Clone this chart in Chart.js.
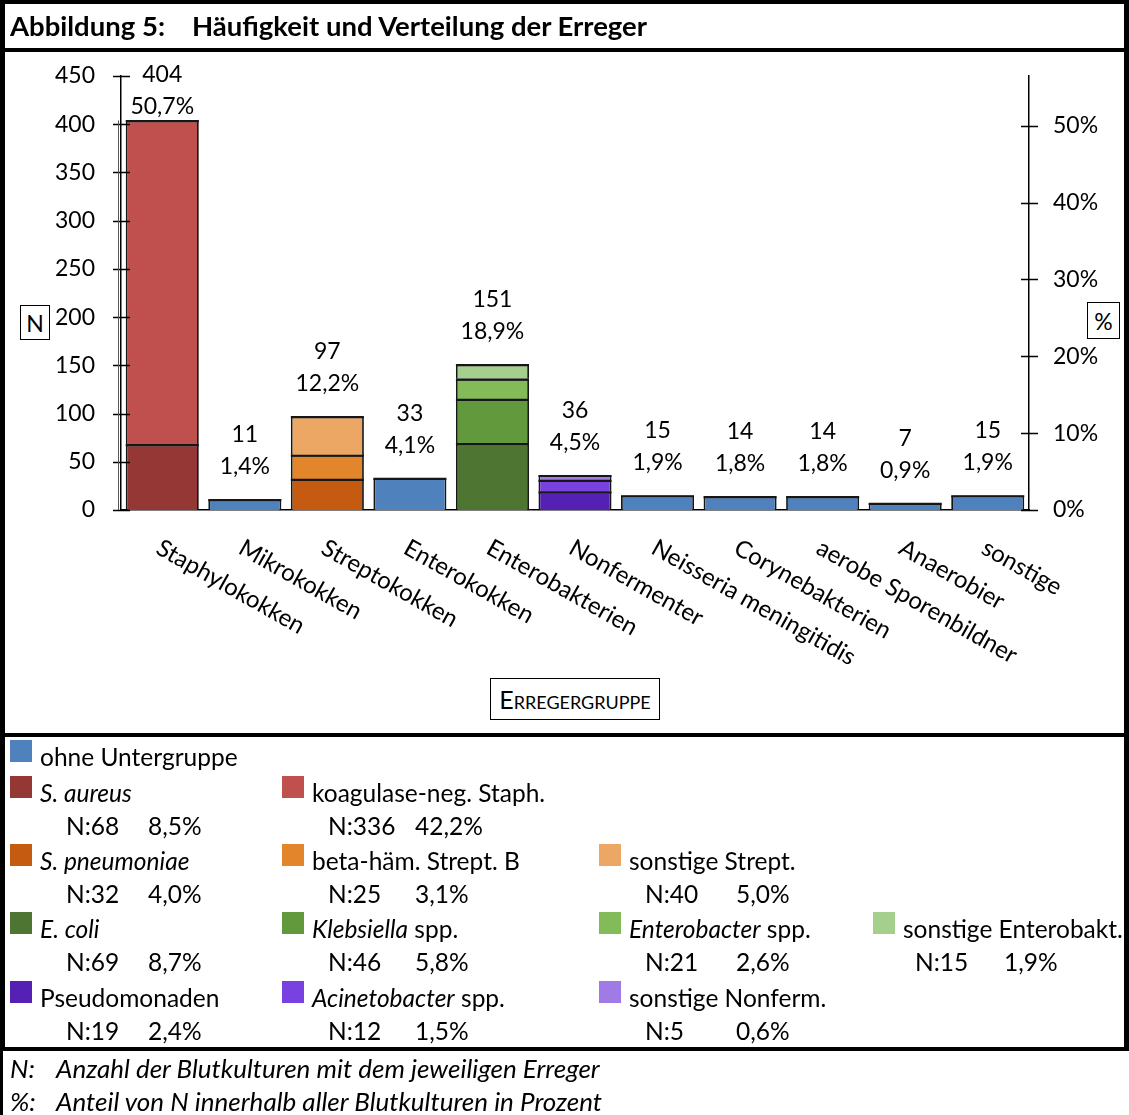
<!DOCTYPE html>
<html lang="de">
<head>
<meta charset="utf-8">
<title>Häufigkeit und Verteilung der Erreger</title>
<script src="https://cdn.jsdelivr.net/npm/chart.js@4.4.1/dist/chart.umd.min.js"></script>
<style>
  html, body { margin: 0; padding: 0; background: #fff; }
  #page { position: relative; width: 1129px; height: 1115px; overflow: hidden;
          font-family: Lato, sans-serif; color: #000; }
  #chart { position: absolute; left: 0; top: 0; }
  .rule { position: absolute; background: #000; }
  .txt { position: absolute; white-space: nowrap; line-height: 30px; font-size: 24.5px; }
  .title { font-weight: bold; font-size: 27.5px; }
  .box { position: absolute; border: 1px solid #000; background: #fff;
         display: flex; align-items: center; justify-content: center; font-size: 23px; }
  .sc { font-variant: small-caps; font-size: 25px; }
  .sw { position: absolute; width: 22px; height: 22px; }
  .nline { position: absolute; display: flex; white-space: nowrap; line-height: 30px; font-size: 24.5px; }
  .foot { font-style: italic; font-size: 26px; }
</style>
</head>
<body>
<div id="page">
  <canvas id="chart" width="1129" height="1115"></canvas>

  <!-- frame lines -->
  <div class="rule" style="left:0;top:0;width:1129px;height:4px"></div>
  <div class="rule" style="left:0;top:0;width:5px;height:1050px"></div>
  <div class="rule" style="left:0;top:1050px;width:3px;height:65px"></div>
  <div class="rule" style="left:1124px;top:0;width:5px;height:1050px"></div>
  <div class="rule" style="left:0;top:48px;width:1129px;height:4px"></div>
  <div class="rule" style="left:0;top:733px;width:1129px;height:4px"></div>
  <div class="rule" style="left:0;top:1047px;width:1129px;height:4px"></div>

  <!-- heading -->
  <div class="txt title" style="left:10px;top:11px">Abbildung 5:</div>
  <div class="txt title" style="left:192px;top:11px">Häufigkeit und Verteilung der Erreger</div>

  <!-- axis captions -->
  <div class="box" style="left:20px;top:305px;width:28px;height:33px">N</div>
  <div class="box" style="left:1087px;top:302px;width:31px;height:35px">%</div>
  <div class="box sc" style="left:490px;top:678px;width:168px;height:40px">Erregergruppe</div>

  <div id="legend"></div>

  <!-- footnotes -->
  <div class="txt foot" style="left:10px;top:1053px">N:</div>
  <div class="txt foot" style="left:56px;top:1053px">Anzahl der Blutkulturen mit dem jeweiligen Erreger</div>
  <div class="txt foot" style="left:10px;top:1086px">%:</div>
  <div class="txt foot" style="left:56px;top:1086px">Anteil von N innerhalb aller Blutkulturen in Prozent</div>
</div>

<script>
// ---- data ----
const categories = ['Staphylokokken', 'Mikrokokken', 'Streptokokken', 'Enterokokken', 'Enterobakterien',
  'Nonfermenter', 'Neisseria meningitidis', 'Corynebakterien', 'aerobe Sporenbildner', 'Anaerobier', 'sonstige'];
const groupPercentLabels = ['50,7%', '1,4%', '12,2%', '4,1%', '18,9%', '4,5%', '1,9%', '1,8%', '1,8%', '0,9%', '1,9%'];

const ohneUntergruppeLabel = 'ohne Untergruppe';
const ohneUntergruppe = [null, 11, null, 33, null, null, 15, 14, 14, 7, 15];

// subgroups, listed bottom to top within each bar
const subgroupNames = ['<i>S. aureus</i>', 'koagulase-neg. Staph.',
  '<i>S. pneumoniae</i>', 'beta-häm. Strept. B', 'sonstige Strept.',
  '<i>E. coli</i>', '<i>Klebsiella</i> spp.', '<i>Enterobacter</i> spp.', 'sonstige Enterobakt.',
  'Pseudomonaden', '<i>Acinetobacter</i> spp.', 'sonstige Nonferm.'];
const subgroupCategory = [0, 0, 2, 2, 2, 4, 4, 4, 4, 5, 5, 5];
const subgroupN = [68, 336, 32, 25, 40, 69, 46, 21, 15, 19, 12, 5];
const subgroupPercentLabels = ['8,5%', '42,2%', '4,0%', '3,1%', '5,0%', '8,7%', '5,8%', '2,6%', '1,9%', '2,4%', '1,5%', '0,6%'];

const nTicks = [0, 50, 100, 150, 200, 250, 300, 350, 400, 450];
const pctTicks = [0, 10, 20, 30, 40, 50];

// ---- styling ----
const ohneColor = '#4F81BD';
const subgroupColors = ['#953735', '#C0504D',
  '#C55A11', '#E3862B', '#EDA765',
  '#4E7531', '#63993D', '#83BB58', '#A5CF8C',
  '#5520B4', '#7941E0', '#A07BE6'];
const FONT = 'Lato';
const AXIS_FONT = 23;
const CATEGORY_FONT = 24;
const OUTLINE = '#161616';
const OUTLINE_W = 1.8;

// ---- legend (HTML) ----
const legendCols = [10, 282, 599, 873];
const legendNOffset = [56, 46, 46, 42];
const legendPctOffset = [138, 133, 137, 131];
const legendNameRows = [793, 861, 929, 998];
const legendGap = 33;
(function buildLegend() {
  const host = document.getElementById('legend');
  const add = (html) => host.insertAdjacentHTML('beforeend', html);
  // row without subgroups
  add(`<div class="sw" style="left:${legendCols[0]}px;top:740px;background:${ohneColor}"></div>`);
  add(`<div class="txt" style="left:${legendCols[0] + 30}px;top:742px">${ohneUntergruppeLabel}</div>`);
  const groupOrder = [...new Set(subgroupCategory)];
  const colInGroup = {};
  subgroupNames.forEach((name, i) => {
    const g = groupOrder.indexOf(subgroupCategory[i]);
    const c = colInGroup[g] = (colInGroup[g] === undefined ? 0 : colInGroup[g] + 1);
    const x = legendCols[c];
    const y = legendNameRows[g];
    add(`<div class="sw" style="left:${x}px;top:${y - 17}px;background:${subgroupColors[i]}"></div>`);
    add(`<div class="txt" style="left:${x + 30}px;top:${y - 15}px">${name}</div>`);
    const ny = y + legendGap;
    const nx = x + legendNOffset[c];
    const minW = legendPctOffset[c] - legendNOffset[c] - 10;
    add(`<div class="nline" style="left:${nx}px;top:${ny - 15}px"><span style="min-width:${minW}px;margin-right:10px">N:${subgroupN[i]}</span><span>${subgroupPercentLabels[i]}</span></div>`);
  });
})();

// ---- datasets ----
const datasets = [{
  label: ohneUntergruppeLabel,
  data: ohneUntergruppe,
  backgroundColor: ohneColor
}];
subgroupNames.forEach((name, i) => {
  const data = categories.map((_, c) => c === subgroupCategory[i] ? subgroupN[i] : null);
  datasets.push({ label: name.replace(/<[^>]+>/g, ''), data, backgroundColor: subgroupColors[i] });
});
datasets.forEach(d => {
  d.borderColor = OUTLINE;
  d.borderWidth = { top: OUTLINE_W, left: OUTLINE_W, right: OUTLINE_W, bottom: 0 };
  d.borderSkipped = false;
  d.barPercentage = 0.885;
  d.categoryPercentage = 1.0;
});
const totals = categories.map((_, c) => datasets.reduce((s, d) => s + (d.data[c] || 0), 0));
const grandTotal = totals.reduce((a, b) => a + b, 0);

// closes the anti-aliasing seam where stacked pieces meet
const segmentEdges = {
  id: 'segmentEdges',
  afterDatasetsDraw(chart) {
    const ctx = chart.ctx;
    ctx.save();
    ctx.strokeStyle = OUTLINE;
    ctx.lineWidth = 2.2;
    ctx.beginPath();
    chart.data.datasets.forEach((d, di) => {
      chart.getDatasetMeta(di).data.forEach((el, i) => {
        if (d.data[i] == null) return;
        const p = el.y + OUTLINE_W - 1.1;
        ctx.moveTo(el.x - el.width / 2, p);
        ctx.lineTo(el.x + el.width / 2, p);
      });
    });
    ctx.stroke();
    ctx.restore();
  }
};

// tick marks crossing both axes, value labels and slanted category names
const decorations = {
  id: 'decorations',
  afterDraw(chart) {
    const ctx = chart.ctx;
    const { left, right, bottom } = chart.chartArea;
    const y = chart.scales.y, y2 = chart.scales.y2, x = chart.scales.x;
    ctx.save();
    ctx.strokeStyle = '#000';
    ctx.lineWidth = 1.3;
    ctx.beginPath();
    nTicks.forEach(v => { const p = Math.round(y.getPixelForValue(v)) + 0.5; ctx.moveTo(left - 8, p); ctx.lineTo(left + 9, p); });
    pctTicks.forEach(v => { const p = Math.round(y2.getPixelForValue(v)) + 0.5; ctx.moveTo(right - 8, p); ctx.lineTo(right + 9, p); });
    ctx.stroke();

    // second thin frame line beside the left axis
    ctx.strokeStyle = '#555';
    ctx.lineWidth = 1;
    ctx.beginPath();
    ctx.moveTo(left - 2.5, y.getPixelForValue(totals[0]));
    ctx.lineTo(left - 2.5, bottom);
    ctx.stroke();

    // value labels
    ctx.fillStyle = '#000';
    ctx.font = `${AXIS_FONT}px ${FONT}`;
    ctx.textAlign = 'center';
    ctx.textBaseline = 'middle';
    categories.forEach((_, c) => {
      const cx = x.getPixelForValue(c);
      const top = y.getPixelForValue(totals[c]);
      let l1 = top - 65;
      if (l1 < 75) l1 = 75;
      ctx.fillText(String(totals[c]), cx, l1);
      ctx.fillText(groupPercentLabels[c], cx, l1 + 32);
    });

    // category names
    ctx.font = `${CATEGORY_FONT}px ${FONT}`;
    ctx.textAlign = 'left';
    categories.forEach((name, c) => {
      const cx = x.getPixelForValue(c);
      ctx.save();
      ctx.translate(cx - 4, 546);
      ctx.rotate(29.5 * Math.PI / 180);
      ctx.fillText(name, 0, 0);
      ctx.restore();
    });
    ctx.restore();
  }
};

function draw() {
  new Chart(document.getElementById('chart'), {
    type: 'bar',
    data: { labels: categories, datasets },
    options: {
      responsive: false,
      animation: false,
      events: [],
      layout: { padding: { top: 76, bottom: 605, left: 0, right: 0 } },
      plugins: { legend: { display: false }, tooltip: { enabled: false }, title: { display: false } },
      scales: {
        x: {
          stacked: true,
          grid: { display: false, drawTicks: false },
          border: { display: true, color: '#000', width: 1.5 },
          ticks: { display: false },
          afterFit(s) { s.height = 0; }
        },
        y: {
          stacked: true,
          position: 'left',
          min: 0, max: 450,
          afterBuildTicks(s) { s.ticks = nTicks.map(v => ({ value: v })); },
          afterFit(s) { s.width = 121; },
          grid: { display: false, drawTicks: false },
          border: { display: true, color: '#000', width: 1.5 },
          ticks: { color: '#000', padding: 26, font: { family: FONT, size: AXIS_FONT } }
        },
        y2: {
          position: 'right',
          min: 0, max: 450 / grandTotal * 100,
          afterBuildTicks(s) { s.ticks = pctTicks.map(v => ({ value: v })); },
          afterFit(s) { s.width = 100; },
          grid: { display: false, drawTicks: false },
          border: { display: true, color: '#000', width: 1.5 },
          ticks: { color: '#000', padding: 24, font: { family: FONT, size: AXIS_FONT },
                   callback: v => v + '%' }
        }
      }
    },
    plugins: [segmentEdges, decorations]
  });
}

(document.fonts && document.fonts.load ? document.fonts.load(`${AXIS_FONT}px ${FONT}`) : Promise.resolve())
  .then(draw, draw);
</script>
</body>
</html>
